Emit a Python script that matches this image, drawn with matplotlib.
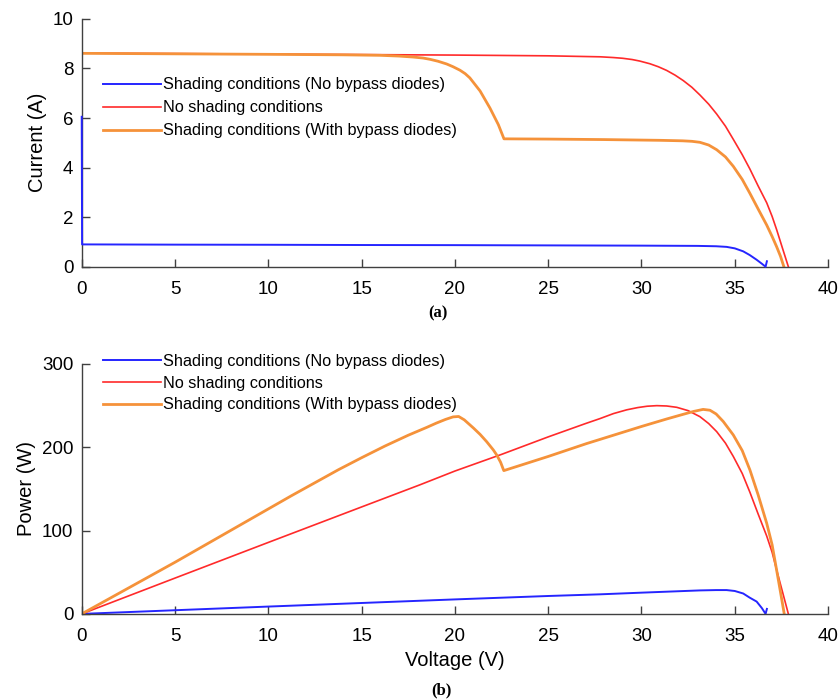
import matplotlib
matplotlib.use('Agg')
import matplotlib.pyplot as plt

plt.rcParams['font.family'] = ['Liberation Sans', 'DejaVu Sans']

# --- I-V curves (top panel) ---
v_iv_red = [0, 5, 10, 15, 20, 25, 27.8, 28.5, 29.0, 29.5, 29.9, 30.45, 30.9, 31.35, 31.8,
            32.24, 32.7, 33.13, 33.6, 34.03, 34.5, 34.92, 35.4, 35.81, 36.25, 36.71, 37.0,
            37.24, 37.55, 37.87]
i_red = [8.62, 8.60, 8.58, 8.56, 8.54, 8.51, 8.47, 8.44, 8.41, 8.36, 8.30, 8.19, 8.07,
         7.92, 7.73, 7.51, 7.24, 6.93, 6.56, 6.16, 5.67, 5.14, 4.52, 3.94, 3.26, 2.58,
         2.03, 1.50, 0.76, 0.0]

v_iv_orange = [0, 5, 10, 14, 16.0, 17.0, 17.77, 18.3, 18.66, 19.1, 19.56, 19.9, 20.27,
               20.55, 20.8, 21.35, 21.88, 22.33, 22.63, 25, 28, 31, 32.2, 32.7, 33.13, 33.6,
               34.03, 34.5, 34.92, 35.4, 35.81, 36.25, 36.71, 37.0, 37.24, 37.45, 37.63]
i_orange = [8.61, 8.59, 8.57, 8.55, 8.53, 8.50, 8.46, 8.42, 8.37, 8.29, 8.18, 8.07, 7.93,
            7.79, 7.62, 7.09, 6.40, 5.73, 5.16, 5.15, 5.13, 5.10, 5.08, 5.06, 5.02, 4.91,
            4.72, 4.43, 4.05, 3.52, 2.96, 2.33, 1.68, 1.22, 0.81, 0.42, 0.0]

v_iv_blue = [0, 0.02, 5, 10, 15, 20, 25, 30, 33, 34.0, 34.56, 35.0, 35.45, 35.8, 36.17,
             36.45, 36.65, 36.72]
i_blue = [6.05, 0.90, 0.89, 0.885, 0.875, 0.87, 0.86, 0.85, 0.84, 0.825, 0.80, 0.74,
          0.62, 0.47, 0.28, 0.12, 0.0, 0.22]

# --- P-V curves (bottom panel) ---
v_pv_red = [0, 5, 10, 15, 18.13, 20, 22.5, 25, 27.0, 27.78, 28.5, 29.21, 29.8, 30.3,
            30.82, 31.35, 31.89, 32.5, 33.13, 33.6, 34.03, 34.5, 34.92, 35.4, 35.81,
            36.25, 36.71, 37.0, 37.24, 37.55, 37.87]
p_red = [0, 43, 85.8, 128.4, 155, 171.5, 191.5, 212.5, 228.5, 234.5, 240.5, 245, 247.7,
         249.3, 250, 249.6, 248, 244, 236.8, 228.5, 218.8, 205, 189, 168.5, 146, 120,
         93.5, 74, 53, 27, 0]

v_pv_orange = [0, 2.5, 5, 7.5, 10, 11.25, 12.5, 13.75, 15, 16.25, 17.5, 18.5, 19.0, 19.5,
               19.9, 20.2, 20.5, 21.0, 21.35, 21.7, 22.06, 22.24, 22.45, 22.62, 25, 27.06,
               27.78, 30, 31.35, 32.06, 32.78, 33.3, 33.67, 34.0, 34.38, 34.92, 35.4, 35.81,
               36.25, 36.71, 37.0, 37.24, 37.45, 37.65]
p_orange = [0, 31, 62, 94, 126, 142, 157.5, 173, 187.5, 201.5, 214.5, 224, 229, 233.5,
            236.5, 237, 233, 223, 215.5, 206.8, 196.8, 190.8, 182, 172, 189, 204.5, 209.5,
            225, 234, 238.5, 243, 245.5, 244.5, 240, 231, 214.8, 196, 172.8, 143, 108.8,
            83, 52.8, 26, 0]

v_pv_blue = [0, 5, 10, 15, 20, 25, 27.78, 30, 33.13, 34.0, 34.56, 35.0, 35.45, 35.8,
             36.17, 36.45, 36.65, 36.72]
p_blue = [0, 4.4, 8.8, 13.1, 17.4, 21.5, 23.5, 25.5, 28.2, 28.6, 28.6, 27.5, 24.5, 19.5,
          14.8, 7, 0, 6]

labels = ['Shading conditions (No bypass diodes)', 'No shading conditions',
          'Shading conditions (With bypass diodes)']
c_blue, c_red, c_orange = '#2525ff', '#ff2a2a', '#f5923a'


def style_axes(ax, ymax, yticks):
    ax.set_xlim(0, 40)
    ax.set_ylim(0, ymax)
    ax.set_xticks(range(0, 41, 5))
    ax.set_yticks(yticks)
    for side in ['top', 'right']:
        ax.spines[side].set_visible(False)
    for side in ['left', 'bottom']:
        ax.spines[side].set_color('#404040')
        ax.spines[side].set_linewidth(1.0)
    ax.tick_params(direction='in', length=6, width=1.0, color='#404040',
                   labelsize=13.5)
    ax.tick_params(axis='x', pad=10.5)
    ax.tick_params(axis='y', pad=6)


fig = plt.figure(figsize=(8.39, 7.0), dpi=100)
ax1 = fig.add_axes([0.0974, 0.619, 0.8896, 0.354])
ax2 = fig.add_axes([0.0974, 0.123, 0.8896, 0.357])

ax1.plot(v_iv_blue, i_blue, color=c_blue, lw=1.4, label=labels[0], zorder=3,
         clip_on=False)
ax1.plot(v_iv_red, i_red, color=c_red, lw=1.2, label=labels[1])
ax1.plot(v_iv_orange, i_orange, color=c_orange, lw=2.0, label=labels[2])
style_axes(ax1, 10, range(0, 11, 2))
ax1.set_ylabel('Current (A)', fontsize=14.5, labelpad=4)
ax1.legend(loc='upper left', bbox_to_anchor=(0.028, 0.764), frameon=False,
           fontsize=11.7, handlelength=3.6, handletextpad=0.1, labelspacing=0.49,
           borderpad=0, borderaxespad=0)

ax2.plot(v_pv_blue, p_blue, color=c_blue, lw=1.4, label=labels[0])
ax2.plot(v_pv_red, p_red, color=c_red, lw=1.2, label=labels[1])
ax2.plot(v_pv_orange, p_orange, color=c_orange, lw=2.0, label=labels[2])
style_axes(ax2, 300, range(0, 301, 100))
ax2.set_ylabel('Power (W)', fontsize=14.5, labelpad=4)
ax2.set_xlabel('Voltage (V)', fontsize=14.5, labelpad=4)
ax2.legend(loc='upper left', bbox_to_anchor=(0.028, 1.041), frameon=False,
           fontsize=11.7, handlelength=3.6, handletextpad=0.1, labelspacing=0.42,
           borderpad=0, borderaxespad=0)

fig.text(0.522, 1 - 313 / 700, '(a)', ha='center', va='center', fontsize=12,
         fontweight='bold', family=['Liberation Serif', 'DejaVu Serif'])
fig.text(0.5256, 1 - 690 / 700, '(b)', ha='center', va='center', fontsize=12,
         fontweight='bold', family=['Liberation Serif', 'DejaVu Serif'])

fig.savefig('out.png', dpi=100)
